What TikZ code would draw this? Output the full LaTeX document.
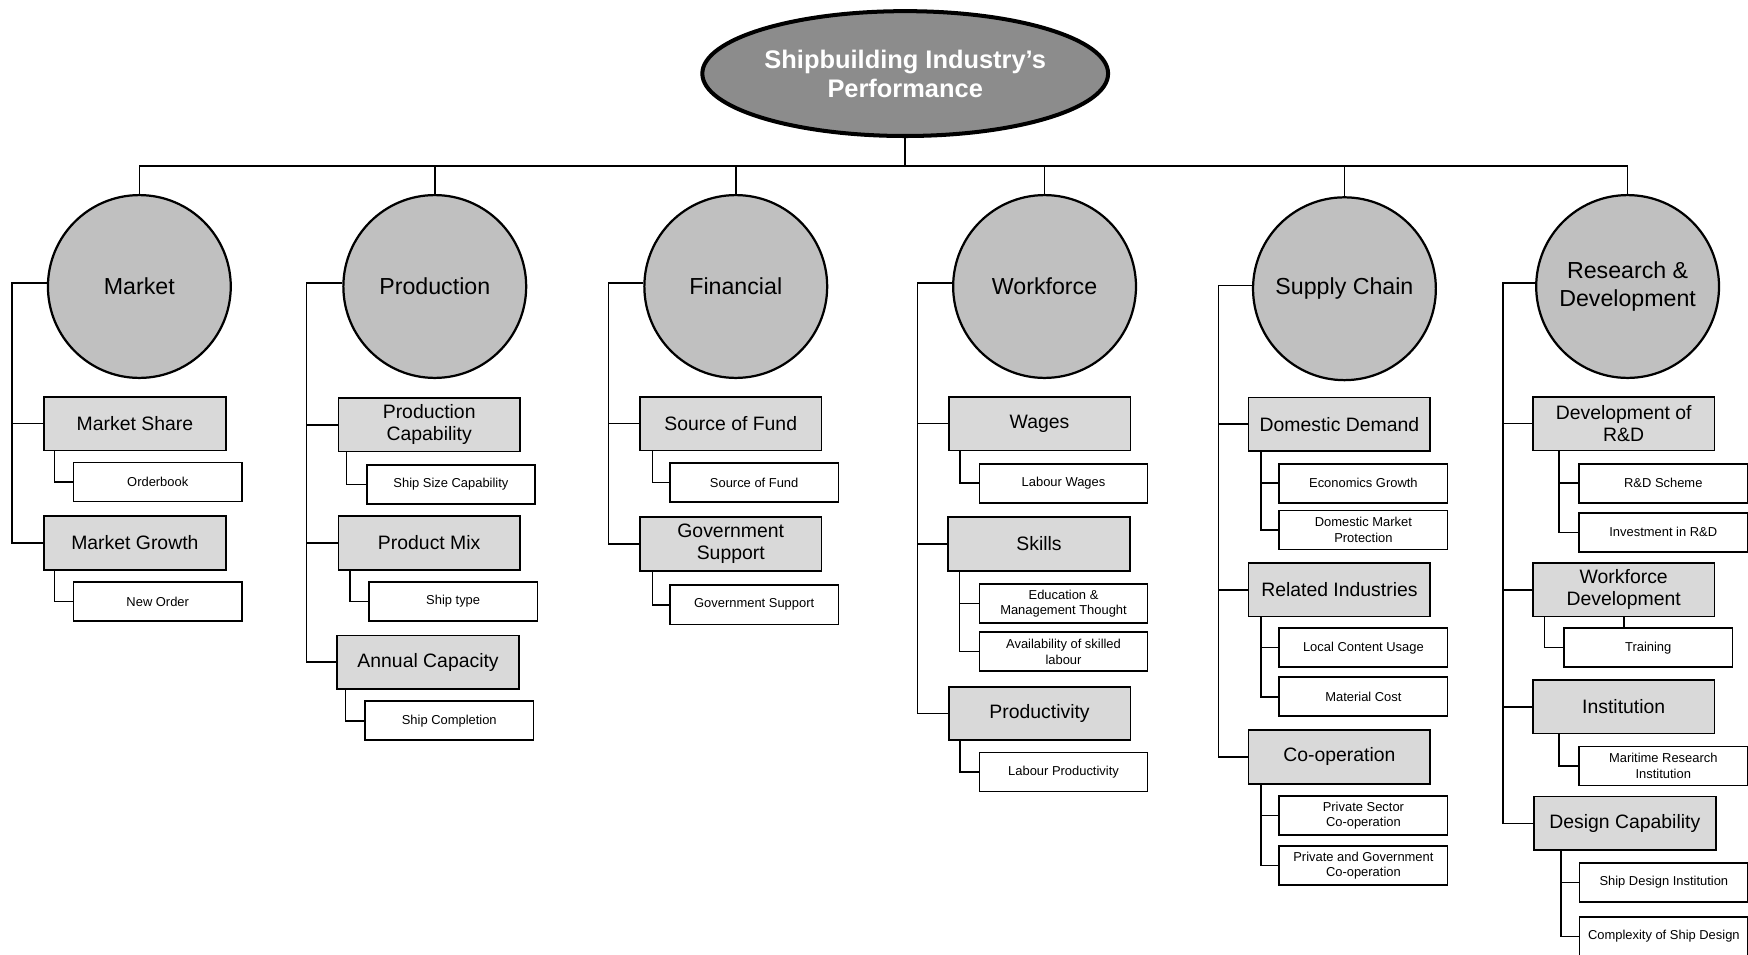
\documentclass[tikz,border=0pt]{standalone}
\usepackage{fontspec}
\setmainfont{Liberation Sans}
\usetikzlibrary{shapes.geometric}
\definecolor{topfill}{HTML}{8C8C8C}
\definecolor{catfill}{HTML}{C0C0C0}
\definecolor{subfill}{HTML}{D9D9D9}
\begin{document}
\begin{tikzpicture}[x=0.5pt,y=-0.5pt,
  topnode/.style={ellipse,draw,line width=1.8pt,fill=topfill,minimum width=182pt,minimum height=56pt,
    inner sep=0pt,align=center,text=white,font=\fontsize{11.4}{13}\selectfont\bfseries},
  catnode/.style={circle,draw,line width=1pt,fill=catfill,minimum size=82pt,inner sep=0pt,
    align=center,font=\fontsize{10.4}{12.5}\selectfont},
  subnode/.style={rectangle,draw,line width=0.75pt,fill=subfill,minimum width=81.5pt,minimum height=24pt,
    inner sep=0pt,align=center,font=\fontsize{8.7}{10}\selectfont},
  leafnode/.style={rectangle,draw,line width=0.7pt,fill=white,minimum width=75.5pt,minimum height=17.5pt,
    inner sep=0pt,align=center,font=\fontsize{5.8}{7}\selectfont},
  conn/.style={line width=0.7pt}]
\useasboundingbox (0,0) rectangle (1568,856);
\clip (0,0) rectangle (1568,856);

% root and the bar joining the six areas
\node[topnode] (top) at (812,66) {Shipbuilding Industry’s\\Performance};
\coordinate (bar) at (0,149);

% areas
\node[catnode] (c1) at (125,257) {Market};
\node[catnode] (c2) at (390,257) {Production};
\node[catnode] (c3) at (660,257) {Financial};
\node[catnode] (c4) at (937,257) {Workforce};
\node[catnode] (c5) at (1206,259) {Supply Chain};
\node[catnode] (c6) at (1460,257) {Research \&\\Development};

\draw[conn] (top.south) -- (top.south |- bar);
\draw[conn] (c1.north) -- (c1.north |- bar) -- (c6.north |- bar) -- (c6.north);
\foreach \c in {c2,c3,c4,c5} \draw[conn] (\c.north) -- (\c.north |- bar);

% Market
\node[subnode] (ms) at (121,380) {Market Share};
\node[leafnode] (ob) at (141.5,432.5) {Orderbook};
\node[subnode] (mg) at (121,487) {Market Growth};
\node[leafnode] (no) at (141.5,539.5) {New Order};
\coordinate (b1) at (11,0);
\draw[conn] (c1.178) -| (b1 |- mg.west) -- (mg.west);
\draw[conn] (b1 |- ms.west) -- (ms.west);
\draw[conn] ([xshift=5pt]ms.south west) |- (ob.west);
\draw[conn] ([xshift=5pt]mg.south west) |- (no.west);

% Production
\node[subnode] (pc) at (385,381) {Production\\Capability};
\node[leafnode] (ssc) at (404.5,434.5) {Ship Size Capability};
\node[subnode] (pm) at (385,487) {Product Mix};
\node[leafnode] (st) at (406.5,539.5) {Ship type};
\node[subnode] (ac) at (384,594) {Annual Capacity};
\node[leafnode] (sc) at (403,646.5) {Ship Completion};
\coordinate (b2) at (275,0);
\draw[conn] (c2.178) -| (b2 |- ac.west) -- (ac.west);
\draw[conn] (b2 |- pc.west) -- (pc.west);
\draw[conn] (b2 |- pm.west) -- (pm.west);
\draw[conn] ([xshift=4pt]pc.south west) |- (ssc.west);
\draw[conn] ([xshift=5.5pt]pm.south west) |- (st.west);
\draw[conn] ([xshift=4pt]ac.south west) |- (sc.west);

% Financial
\node[subnode] (sf) at (655.5,380) {Source of Fund};
\node[leafnode] (sf2) at (676.5,433) {Source of Fund};
\node[subnode] (gs) at (655.5,488) {Government\\Support};
\node[leafnode] (gs2) at (676.5,542.5) {Government Support};
\coordinate (b3) at (546,0);
\draw[conn] (c3.178) -| (b3 |- gs.west) -- (gs.west);
\draw[conn] (b3 |- sf.west) -- (sf.west);
\draw[conn] ([xshift=6pt]sf.south west) |- (sf2.west);
\draw[conn] ([xshift=6pt]gs.south west) |- (gs2.west);

% Workforce
\node[subnode] (wg) at (932.5,380) {Wages};
\node[leafnode] (lw) at (954,433.5) {Labour Wages};
\node[subnode] (sk) at (932,488) {Skills};
\node[leafnode] (em) at (954,541.5) {Education \&\\Management Thought};
\node[leafnode] (av) at (954,584.5) {Availability of skilled\\labour};
\node[subnode] (pr) at (932.5,640) {Productivity};
\node[leafnode] (lp) at (954,692.5) {Labour Productivity};
\coordinate (b4) at (823,0);
\draw[conn] (c4.178) -| (b4 |- pr.west) -- (pr.west);
\draw[conn] (b4 |- wg.west) -- (wg.west);
\draw[conn] (b4 |- sk.west) -- (sk.west);
\draw[conn] ([xshift=5.5pt]wg.south west) |- (lw.west);
\draw[conn] ([xshift=5.5pt]sk.south west) |- (av.west);
\draw[conn] ([xshift=5.5pt]sk.south west) |- (em.west);
\draw[conn] ([xshift=5.5pt]pr.south west) |- (lp.west);

% Supply Chain
\node[subnode] (dd) at (1201.5,380.5) {Domestic Demand};
\node[leafnode] (eg) at (1223,433.5) {Economics Growth};
\node[leafnode] (dm) at (1223,475.5) {Domestic Market\\Protection};
\node[subnode] (ri) at (1201.5,529) {Related Industries};
\node[leafnode] (lc) at (1223,581) {Local Content Usage};
\node[leafnode] (mc) at (1223,625) {Material Cost};
\node[subnode] (co) at (1201.5,679) {Co-operation};
\node[leafnode] (ps) at (1223,731.5) {Private Sector\\Co-operation};
\node[leafnode] (pg) at (1223,776.5) {Private and Government\\Co-operation};
\coordinate (b5) at (1093,0);
\draw[conn] (c5.178) -| (b5 |- co.west) -- (co.west);
\draw[conn] (b5 |- dd.west) -- (dd.west);
\draw[conn] (b5 |- ri.west) -- (ri.west);
\draw[conn] ([xshift=6pt]dd.south west) |- (dm.west);
\draw[conn] ([xshift=6pt]dd.south west) |- (eg.west);
\draw[conn] ([xshift=6pt]ri.south west) |- (mc.west);
\draw[conn] ([xshift=6pt]ri.south west) |- (lc.west);
\draw[conn] ([xshift=6pt]co.south west) |- (pg.west);
\draw[conn] ([xshift=6pt]co.south west) |- (ps.west);

% Research & Development
\node[subnode] (dr) at (1456.5,380) {Development of\\R\&D};
\node[leafnode] (rs) at (1492,433.5) {R\&D Scheme};
\node[leafnode] (ir) at (1492,477.5) {Investment in R\&D};
\node[subnode] (wd) at (1456.5,529) {Workforce\\Development};
\node[leafnode] (tr) at (1478.5,581) {Training};
\node[subnode] (in) at (1456.5,634) {Institution};
\node[leafnode] (mr) at (1492,687) {Maritime Research\\Institution};
\node[subnode] (dc) at (1457.5,738.5) {Design Capability};
\node[leafnode] (sd) at (1492.5,791.5) {Ship Design Institution};
\node[leafnode] (cx) at (1492.5,840) {Complexity of Ship Design};
\coordinate (b6) at (1348,0);
\draw[conn] (c6.178) -| (b6 |- dc.west) -- (dc.west);
\draw[conn] (b6 |- dr.west) -- (dr.west);
\draw[conn] (b6 |- wd.west) -- (wd.west);
\draw[conn] (b6 |- in.west) -- (in.west);
\draw[conn] ([xshift=12pt]dr.south west) |- (ir.west);
\draw[conn] ([xshift=12pt]dr.south west) |- (rs.west);
\draw[conn] ([xshift=5.5pt]wd.south west) |- (tr.west);
\draw[conn] (wd.south) -- (wd.south |- tr.north);
\draw[conn] ([xshift=12pt]in.south west) |- (mr.west);
\draw[conn] ([xshift=12.5pt]dc.south west) |- (cx.west);
\draw[conn] ([xshift=12.5pt]dc.south west) |- (sd.west);
\end{tikzpicture}
\end{document}
